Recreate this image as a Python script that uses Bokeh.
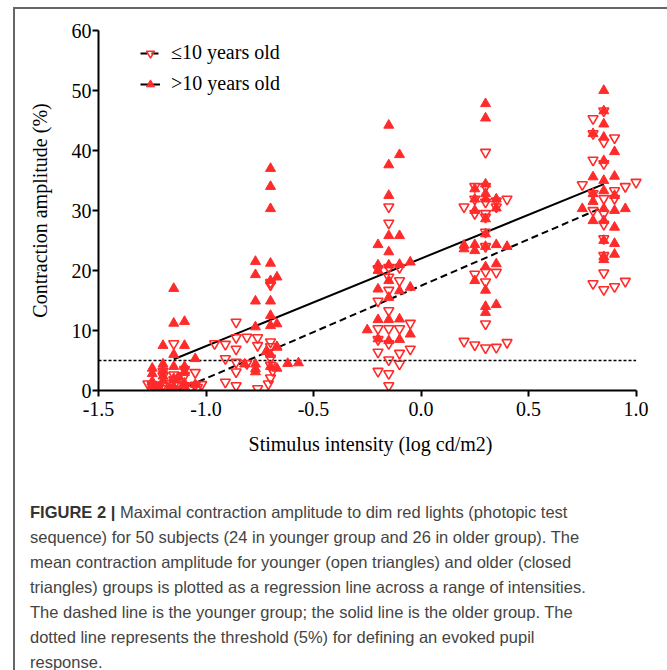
from bokeh.plotting import figure
from bokeh.models import Div, Legend, LegendItem, Range1d, FixedTicker, PrintfTickFormatter
from bokeh.layouts import column
from bokeh.embed import file_html
from bokeh.resources import INLINE

# ---------------- data ----------------
young_x = [
    # intensity ~ -1.15
    -1.27, -1.25, -1.25, -1.22, -1.20, -1.20, -1.20, -1.17, -1.15, -1.15, -1.15, -1.15,
    -1.15, -1.13, -1.10, -1.10, -1.10, -1.10, -1.07, -1.05, -1.05, -1.04, -1.02, -1.20,
    # intensity ~ -0.75
    -0.96, -0.91, -0.91, -0.91, -0.86, -0.86, -0.86, -0.86, -0.86, -0.86, -0.81, -0.81,
    -0.76, -0.76, -0.76, -0.70, -0.70, -0.70, -0.70, -0.70, -0.70, -0.70, -0.71, -0.69,
    # intensity ~ -0.15
    -0.15, -0.15, -0.20, -0.15, -0.10, -0.15, -0.10, -0.15, -0.20, -0.15, -0.20, -0.15,
    -0.10, -0.05, -0.20, -0.15, -0.20, -0.10, -0.05, -0.15, -0.10, -0.20, -0.15, -0.15,
    # intensity ~ 0.3
    0.30, 0.25, 0.30, 0.25, 0.30, 0.35, 0.40, 0.20, 0.25, 0.30, 0.35, 0.30,
    0.30, 0.30, 0.25, 0.30, 0.35, 0.30, 0.30, 0.20, 0.25, 0.30, 0.35, 0.40,
    # intensity ~ 0.85
    0.85, 0.80, 0.80, 0.90, 0.85, 0.80, 0.85, 0.75, 1.00, 0.95, 0.80, 0.90,
    0.85, 0.90, 0.80, 0.85, 0.85, 0.85, 0.85, 0.85, 0.80, 0.85, 0.90, 0.95,
]
young_y = [
    1.1, 0.6, 1.0, 0.5, 0.9, 0.3, 2.4, 1.2, 0.2, 0.8, 1.8, 2.6,
    7.8, 1.0, 0.4, 0.8, 2.5, 3.5, 0.6, 0.9, 3.0, 0.5, 1.0, 3.2,
    7.8, 7.7, 5.3, 1.4, 11.4, 8.8, 6.9, 4.7, 3.1, 0.8, 8.9, 4.5,
    8.8, 7.5, 0.3, 18.0, 17.6, 8.1, 7.3, 5.4, 4.2, 2.1, 1.1, 3.3,
    30.6, 27.9, 20.3, 20.5, 20.5, 18.9, 18.3, 16.7, 14.9, 13.3, 10.3, 10.3,
    10.3, 11.2, 8.5, 7.8, 6.4, 6.2, 6.9, 5.1, 4.4, 3.2, 2.8, 0.8,
    39.7, 34.0, 34.0, 31.9, 31.4, 31.6, 31.9, 30.6, 29.5, 29.5, 30.6, 28.9,
    26.4, 24.0, 19.4, 19.8, 19.7, 18.1, 11.1, 8.2, 7.6, 7.1, 7.2, 8.0,
    46.6, 45.3, 42.8, 42.1, 41.4, 38.4, 37.8, 34.3, 34.7, 34.0, 32.8, 33.3,
    32.0, 32.0, 30.0, 29.5, 27.7, 25.3, 22.5, 19.6, 17.8, 16.8, 17.3, 18.2,
]
old_x = [
    -1.25, -1.25, -1.25, -1.22, -1.20, -1.20, -1.20, -1.20, -1.20, -1.17, -1.15, -1.15, -1.15,
    -1.15, -1.15, -1.15, -1.10, -1.10, -1.10, -1.10, -1.10, -1.10, -1.05, -1.05, -1.25, -1.13,
    -0.77, -0.70, -0.77, -0.67, -0.70, -0.77, -0.70, -0.70, -0.77, -0.67, -0.70, -0.70, -0.70,
    -0.70, -0.67, -0.70, -0.82, -0.77, -0.77, -0.70, -0.67, -0.62, -0.57, -0.72, -0.77, -0.67,
    -0.15, -0.10, -0.15, -0.15, -0.15, -0.10, -0.20, -0.15, -0.20, -0.15, -0.10, -0.05, -0.20,
    -0.10, -0.05, -0.15, -0.25, -0.20, -0.15, -0.10, -0.05, -0.20, -0.15, -0.10, -0.15, -0.20,
    0.30, 0.30, 0.30, 0.25, 0.30, 0.25, 0.35, 0.30, 0.25, 0.35, 0.30, 0.30, 0.20,
    0.25, 0.30, 0.35, 0.40, 0.20, 0.25, 0.35, 0.30, 0.25, 0.30, 0.35, 0.30, 0.30,
    0.85, 0.85, 0.85, 0.80, 0.85, 0.90, 0.85, 0.80, 0.90, 0.85, 0.80, 0.90, 0.75,
    0.85, 0.95, 0.90, 0.80, 0.85, 0.90, 0.85, 0.85, 0.90, 0.85, 0.80, 0.85, 0.90,
]
old_y = [
    3.7, 2.8, 1.5, 0.6, 7.5, 4.4, 3.4, 2.4, 1.6, 0.4, 17.0, 11.2, 6.0,
    4.0, 2.0, 0.5, 11.5, 7.5, 4.0, 3.0, 1.2, 0.3, 5.3, 1.0, 0.9, 2.2,
    21.5, 21.2, 19.3, 18.9, 18.3, 14.9, 14.9, 12.5, 10.6, 11.1, 10.8, 37.0, 34.0,
    30.3, 7.2, 6.0, 4.4, 4.4, 3.1, 4.0, 3.7, 4.5, 4.6, 6.5, 3.6, 7.3,
    44.2, 39.3, 37.6, 32.5, 25.8, 25.8, 24.3, 23.1, 20.9, 20.9, 21.0, 21.4, 16.9,
    16.6, 17.2, 18.3, 10.1, 11.8, 11.8, 11.9, 9.4, 8.6, 8.3, 8.5, 15.5, 20.0,
    47.8, 45.4, 34.4, 33.6, 32.8, 31.9, 31.9, 31.9, 30.0, 30.4, 28.6, 26.1, 24.2,
    24.3, 24.0, 24.3, 24.0, 23.6, 23.3, 21.1, 20.6, 18.3, 16.7, 14.3, 14.0, 13.0,
    50.0, 46.6, 44.4, 42.8, 42.2, 39.8, 38.3, 35.6, 35.7, 33.3, 32.8, 32.5, 30.3,
    30.3, 30.3, 30.0, 28.3, 28.3, 27.2, 25.0, 22.3, 22.7, 21.8, 31.5, 35.0, 24.5,
]
young_fit_x = [-1.13, 0.85]
young_fit_y = [0.0, 30.6]
old_fit_x = [-1.15, 0.85]
old_fit_y = [5.2, 34.4]
threshold_x = [-1.5, 1.0]
threshold_y = [5.0, 5.0]
x_ticks = [-1.5, -1.0, -0.5, 0.0, 0.5, 1.0]
y_ticks = [0, 10, 20, 30, 40, 50, 60]
legend_labels = ["\u226410 years old", ">10 years old"]
x_title = "Stimulus intensity (log cd/m2)"
y_title = "Contraction amplitude (%)"
caption_lines = [
    "Maximal contraction amplitude to dim red lights (photopic test",
    "sequence) for 50 subjects (24 in younger group and 26 in older group). The",
    "mean contraction amplitude for younger (open triangles) and older (closed",
    "triangles) groups is plotted as a regression line across a range of intensities.",
    "The dashed line is the younger group; the solid line is the older group. The",
    "dotted line represents the threshold (5%) for defining an evoked pupil",
    "response.",
]

# ---------------- figure ----------------
RED = "#ff2b2b"
SERIF = "Liberation Serif"

p = figure(frame_width=544, frame_height=360,
           x_range=Range1d(-1.5, 1.03), y_range=Range1d(0, 60),
           output_backend="svg", toolbar_location=None,
           min_border_left=83, min_border_top=21, min_border_right=23, min_border_bottom=70)
p.grid.visible = False
p.outline_line_color = None
p.background_fill_color = "white"
p.border_fill_color = "white"

for ax in (p.xaxis[0], p.yaxis[0]):
    ax.axis_line_width = 2
    ax.axis_line_color = "black"
    ax.major_tick_line_width = 2
    ax.major_tick_line_color = "black"
    ax.major_tick_out = 6
    ax.major_tick_in = 0
    ax.minor_tick_line_color = None
    ax.major_label_text_font = SERIF
    ax.major_label_text_font_size = "20px"
    ax.major_label_text_color = "black"
    ax.axis_label_text_font = SERIF
    ax.axis_label_text_font_size = "20px"
    ax.axis_label_text_font_style = "normal"
    ax.axis_label_text_color = "black"

p.xaxis.ticker = FixedTicker(ticks=x_ticks)
p.xaxis.formatter = PrintfTickFormatter(format="%.1f")
p.xaxis.bounds = (x_ticks[0], x_ticks[-1])
p.xaxis.axis_label = x_title
p.xaxis.major_label_standoff = 5
p.xaxis.axis_label_standoff = 14

p.yaxis.ticker = FixedTicker(ticks=y_ticks)
p.yaxis.axis_label = y_title
p.yaxis.major_label_standoff = 1
p.yaxis.axis_label_standoff = 18

# threshold (dotted)
p.line(threshold_x, threshold_y, line_color="black", line_width=1.6, line_dash="3 2")

# regression lines
r_yfit = p.line(young_fit_x, young_fit_y, line_color="black", line_width=2, line_dash="7 4")
r_ofit = p.line(old_fit_x, old_fit_y, line_color="black", line_width=2)

# scatter points
r_old = p.scatter(old_x, old_y, marker="triangle", size=10, fill_color=RED,
                  line_color=RED, line_width=1)
r_young = p.scatter(young_x, young_y, marker="inverted_triangle", size=10,
                    fill_color="white", fill_alpha=0.0, line_color=RED, line_width=1.6)

legend = Legend(items=[LegendItem(label=legend_labels[0], renderers=[r_yfit, r_young]),
                       LegendItem(label=legend_labels[1], renderers=[r_ofit, r_old])],
                location=(42, 295), orientation="vertical",
                padding=0, spacing=8, margin=0,
                glyph_width=20, glyph_height=20, label_height=20, label_standoff=11,
                label_text_font=SERIF, label_text_font_size="20px", label_text_color="black",
                background_fill_alpha=0.0, border_line_alpha=0.0)
p.add_layout(legend, "center")

# ---------------- caption ----------------
cap_html = ('<span style="font-weight:bold;color:#333333">FIGURE 2 |</span> '
            + caption_lines[0] + "<br>" + "<br>".join(caption_lines[1:]))
cap = Div(text=cap_html, width=650, height=200,
          styles={"font-family": "Liberation Sans", "font-size": "16.5px",
                  "line-height": "25px", "color": "#444444", "white-space": "nowrap",
                  "padding-left": "10px", "padding-top": "35px"})

layout = column(p, cap, spacing=0,
                styles={"border-top": "2px solid #666666", "border-left": "2px solid #666666",
                        "margin-left": "13px", "margin-top": "7px"})

open("out.html", "w").write(file_html(layout, INLINE))
